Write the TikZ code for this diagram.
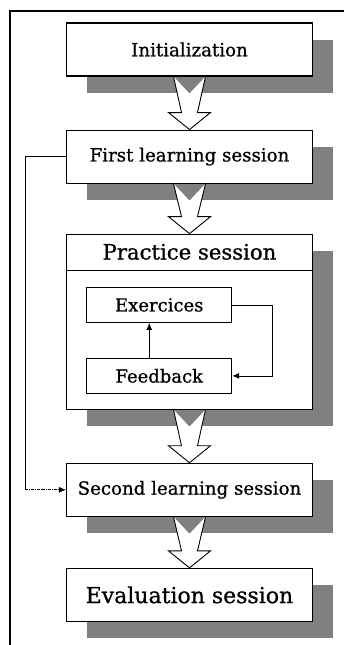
\documentclass[tikz,border=0pt]{standalone}
\usepackage{fontspec}
\setmainfont{DejaVu Serif}[FakeBold=0.8]
\usetikzlibrary{positioning,shadows,arrows.meta}

\tikzset{
  stage/.style={draw, line width=1.1pt, fill=white, minimum width=246pt, minimum height=53pt, inner sep=0pt,
    font=\fontsize{18.2}{21}\selectfont,
    general shadow={fill=black!50, draw=none, shadow xshift=20pt, shadow yshift=-17pt}},
  bigstage/.style={stage, font=\fontsize{22}{25}\selectfont},
  task/.style={draw, line width=0.9pt, fill=white, minimum width=145pt, minimum height=35pt, inner sep=0pt,
    font=\fontsize{18}{21}\selectfont},
  link/.style={line width=0.8pt, -{Latex[length=7pt,width=6pt]}},
}

\begin{document}
\begin{tikzpicture}[node distance=53pt]
  \useasboundingbox (0,0) rectangle (344pt,-645pt);
  % outer frame (top and left only)
  \draw[line width=2pt] (344pt,-11pt) -- (10pt,-11pt) -- (10pt,-645pt);

  % main stages
  \node[stage] (init) at (189.5pt,-49.5pt) {Initialization};
  \node[stage] [below=of init] (first) {First learning session};
  \node[stage, minimum height=175pt] [below=50pt of first] (practice) {};
  \node[stage] [below=of practice] (second) {Second learning session};
  \node[bigstage] [below=51pt of second] (eval) {Evaluation session};

  % practice session content
  \node[anchor=north, minimum width=246pt, minimum height=36pt, inner sep=0pt,
    font=\fontsize{21.2}{24}\selectfont] (ptitle) at (practice.north) {Practice session};
  \draw[line width=0.9pt] (ptitle.south west) -- (ptitle.south east);
  \node[task, anchor=north west] at ([shift={(20pt,-17pt)}]ptitle.south west) (exer) {Exercices};
  \node[task] [below=35pt of exer] (feed) {Feedback};
  \draw[link] ([xshift=-10pt]feed.north) -- ([xshift=-10pt]exer.south);
  \draw[link] (exer.east) -- ++(40pt,0) |- (feed.east);

  % return path from first to second session
  \coordinate (loopcorner) at ([xshift=-41pt]second.west);
  \draw[line width=0.8pt] (first.west) -| (loopcorner);
  \draw[link, densely dash dot] (loopcorner) -- (second.west);

  % hollow arrows between stages
  \foreach \from/\to in {init/first, first/practice, practice/second, second/eval}{
    \fill[white] ([xshift=-16pt]\from.south) -- ([shift={(-8pt,17pt)}]\to.north)
      -- ([shift={(-21pt,17pt)}]\to.north) -- (\to.north) -- ([shift={(21pt,17pt)}]\to.north)
      -- ([shift={(8pt,17pt)}]\to.north) -- ([xshift=16pt]\from.south)
      -- ([yshift=-17pt]\from.south) -- cycle;
    \draw[line width=0.9pt, line join=miter] ([xshift=-16pt]\from.south) -- ([shift={(-8pt,17pt)}]\to.north)
      -- ([shift={(-21pt,17pt)}]\to.north) -- (\to.north) -- ([shift={(21pt,17pt)}]\to.north)
      -- ([shift={(8pt,17pt)}]\to.north) -- ([xshift=16pt]\from.south);
  }
\end{tikzpicture}
\end{document}
